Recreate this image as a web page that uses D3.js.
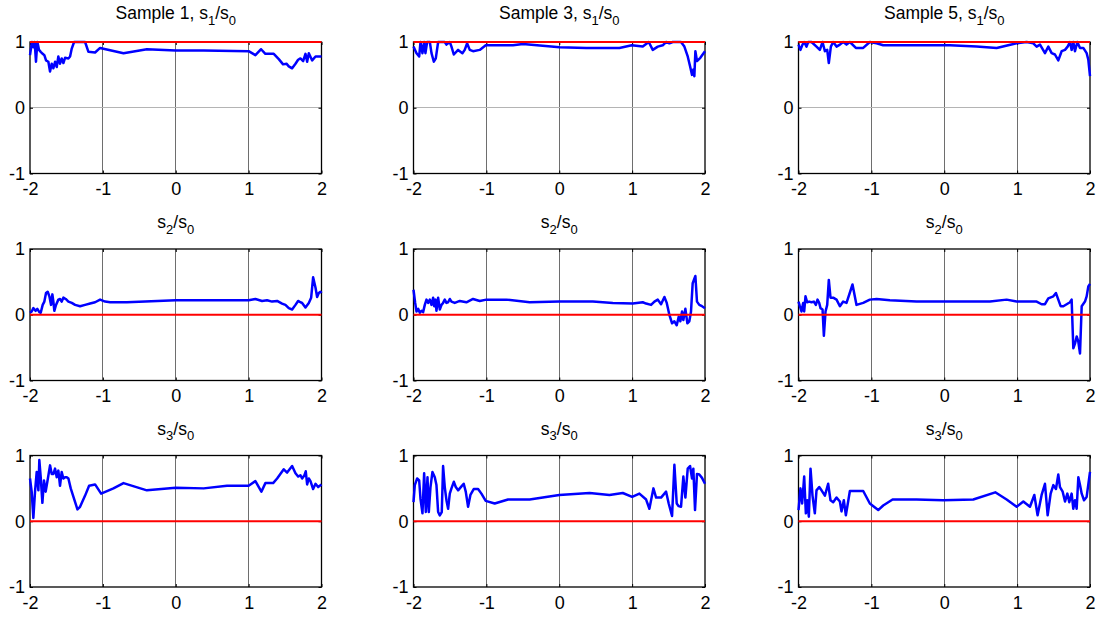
<!DOCTYPE html>
<html>
<head>
<meta charset="utf-8">
<script src="https://cdn.jsdelivr.net/npm/d3@7"></script>
<style>
  html, body { margin: 0; padding: 0; background: #fff; }
  svg { display: block; font-family: "Liberation Sans", Arial, sans-serif; }
</style>
</head>
<body>
<svg id="chart" width="1100" height="617"></svg>
<script>
// ---------- data ----------
const sampleNames = ["Sample 1", "Sample 3", "Sample 5"];
const components = ["1", "2", "3"];
const referenceLevels = [1, 0, 0];
const xTicks = [-2, -1, 0, 1, 2];
const yTicks = [-1, 0, 1];

// Sample 1
const s1_sample1_x = [-2.0,-1.973,-1.954,-1.936,-1.918,-1.899,-1.876,-1.853,-1.826,-1.803,-1.78,-1.748,-1.725,-1.702,-1.679,-1.656,-1.633,-1.611,-1.588,-1.565,-1.542,-1.519,-1.473,-1.45,-1.427,-1.395,-1.244,-1.198,-1.107,-1.038,-0.717,-0.396,0.0,0.383,1.0,1.093,1.171,1.23,1.345,1.414,1.473,1.519,1.551,1.597,1.643,1.679,1.711,1.748,1.78,1.803,1.826,1.872,1.918,2.0];
const s1_sample1_y = [0.80,1.0,0.92,1.0,0.70,1.0,0.88,0.85,0.82,0.80,0.72,0.70,0.55,0.67,0.60,0.70,0.62,0.78,0.67,0.75,0.68,0.76,0.75,0.78,0.90,1.0,1.0,0.85,0.84,0.91,0.83,0.89,0.87,0.87,0.86,0.80,0.89,0.82,0.82,0.74,0.66,0.67,0.63,0.60,0.67,0.73,0.75,0.71,0.82,0.70,0.83,0.72,0.78,0.78];
const s2_sample1_x = [-2.0,-1.977,-1.954,-1.922,-1.899,-1.872,-1.853,-1.826,-1.803,-1.78,-1.757,-1.734,-1.711,-1.693,-1.679,-1.666,-1.643,-1.611,-1.588,-1.565,-1.542,-1.51,-1.473,-1.427,-1.381,-1.313,-1.244,-1.175,-1.107,-1.038,-0.969,-0.9,-0.671,0.0,0.337,1.0,1.093,1.184,1.253,1.322,1.391,1.459,1.505,1.551,1.597,1.643,1.679,1.711,1.734,1.78,1.826,1.858,1.885,1.918,1.94,1.963,1.986,2.0];
const s2_sample1_y = [0.03,0.05,0.10,0.06,0.09,0.04,0.03,0.15,0.20,0.33,0.35,0.28,0.15,0.31,0.20,0.06,0.15,0.23,0.24,0.20,0.26,0.24,0.20,0.18,0.15,0.13,0.15,0.17,0.19,0.23,0.20,0.19,0.19,0.22,0.22,0.22,0.24,0.21,0.22,0.20,0.21,0.17,0.15,0.10,0.08,0.15,0.21,0.19,0.18,0.11,0.18,0.26,0.57,0.41,0.27,0.33,0.35,0.33];
const s3_sample1_x = [-2.0,-1.977,-1.954,-1.931,-1.908,-1.885,-1.872,-1.853,-1.83,-1.808,-1.785,-1.762,-1.725,-1.702,-1.679,-1.656,-1.633,-1.611,-1.588,-1.565,-1.542,-1.519,-1.496,-1.473,-1.441,-1.395,-1.349,-1.313,-1.244,-1.189,-1.107,-1.024,-0.855,-0.717,-0.396,0.0,0.383,0.703,1.0,1.093,1.175,1.23,1.336,1.391,1.482,1.528,1.597,1.643,1.679,1.711,1.734,1.766,1.784,1.803,1.826,1.849,1.885,1.918,1.954,2.0];
const s3_sample1_y = [0.65,0.45,0.05,0.45,0.75,0.47,0.93,0.67,0.28,0.62,0.45,0.60,0.85,0.72,0.72,0.80,0.67,0.77,0.54,0.75,0.65,0.67,0.67,0.65,0.50,0.34,0.18,0.22,0.39,0.54,0.56,0.42,0.50,0.58,0.47,0.51,0.50,0.54,0.54,0.61,0.45,0.58,0.58,0.65,0.79,0.74,0.84,0.73,0.68,0.70,0.65,0.70,0.76,0.56,0.65,0.61,0.49,0.57,0.52,0.56];

// Sample 3
const s1_sample3_x = [-2.0,-1.959,-1.922,-1.904,-1.877,-1.854,-1.836,-1.813,-1.776,-1.753,-1.721,-1.694,-1.662,-1.639,-1.571,-1.548,-1.502,-1.479,-1.447,-1.388,-1.329,-1.297,-1.265,-1.228,-1.183,-1.091,-1.009,-0.635,-0.498,0.005,0.37,0.826,0.995,1.146,1.228,1.283,1.352,1.42,1.466,1.511,1.557,1.671,1.717,1.763,1.795,1.822,1.84,1.854,1.868,1.89,1.936,2.0];
const s1_sample3_y = [0.93,0.83,0.78,1.0,0.83,1.0,0.83,1.0,1.0,0.83,0.70,0.75,1.0,1.0,1.0,0.96,1.0,0.93,0.81,0.88,0.83,0.88,0.98,0.88,0.86,0.88,0.95,0.95,0.97,0.92,0.91,0.91,0.95,0.93,1.0,0.88,0.93,0.95,1.0,0.98,1.0,1.0,0.93,0.78,0.63,0.50,0.58,0.48,0.86,0.71,0.76,0.86];
const s2_sample3_x = [-2.0,-1.977,-1.959,-1.936,-1.913,-1.89,-1.868,-1.845,-1.822,-1.799,-1.776,-1.753,-1.731,-1.717,-1.699,-1.685,-1.662,-1.639,-1.616,-1.594,-1.571,-1.548,-1.525,-1.502,-1.479,-1.434,-1.365,-1.274,-1.183,-1.091,-1.0,-0.726,-0.406,0.0,0.461,0.735,1.009,1.146,1.192,1.26,1.306,1.352,1.397,1.443,1.475,1.511,1.548,1.58,1.612,1.639,1.662,1.685,1.703,1.731,1.758,1.785,1.808,1.831,1.868,1.89,1.922,1.959,2.0];
const s2_sample3_y = [0.38,0.18,0.05,0.09,0.03,0.06,0.04,0.15,0.23,0.18,0.23,0.15,0.26,0.13,0.23,0.06,0.26,0.08,0.15,0.18,0.23,0.18,0.19,0.24,0.20,0.18,0.21,0.19,0.24,0.21,0.23,0.23,0.19,0.20,0.20,0.18,0.17,0.19,0.17,0.15,0.20,0.23,0.16,0.27,0.18,0.0,-0.13,-0.10,-0.16,-0.03,-0.10,0.05,-0.08,0.09,-0.13,-0.10,0.05,0.48,0.59,0.20,0.15,0.13,0.10];
const s3_sample3_x = [-2.0,-1.982,-1.95,-1.922,-1.904,-1.877,-1.854,-1.831,-1.808,-1.79,-1.767,-1.74,-1.708,-1.685,-1.662,-1.639,-1.612,-1.594,-1.571,-1.548,-1.525,-1.502,-1.479,-1.447,-1.42,-1.388,-1.342,-1.311,-1.283,-1.251,-1.219,-1.174,-1.114,-1.068,-1.009,-0.886,-0.703,-0.406,0.0,0.416,0.689,0.872,1.0,1.1,1.192,1.237,1.292,1.329,1.397,1.466,1.502,1.548,1.58,1.612,1.639,1.671,1.703,1.731,1.763,1.795,1.822,1.84,1.863,1.89,1.922,1.959,2.0];
const s3_sample3_y = [0.29,0.55,0.65,0.62,0.34,0.12,0.73,0.14,0.67,0.14,0.52,0.75,0.67,0.55,0.14,0.09,0.14,0.84,0.52,0.32,0.19,0.42,0.50,0.60,0.52,0.47,0.53,0.57,0.45,0.22,0.40,0.49,0.49,0.42,0.31,0.27,0.33,0.33,0.40,0.43,0.40,0.43,0.37,0.42,0.33,0.19,0.50,0.36,0.36,0.45,0.27,0.08,0.86,0.27,0.23,0.22,0.68,0.36,0.80,0.84,0.65,0.80,0.17,0.72,0.71,0.66,0.57];

// Sample 5
const s1_sample5_x = [-2.0,-1.973,-1.945,-1.922,-1.89,-1.867,-1.822,-1.753,-1.707,-1.67,-1.638,-1.606,-1.584,-1.556,-1.524,-1.478,-1.432,-1.387,-1.341,-1.295,-1.213,-1.112,-1.021,-0.929,-0.838,-0.471,0.078,0.444,0.719,0.993,1.13,1.222,1.268,1.314,1.382,1.428,1.474,1.519,1.565,1.611,1.657,1.693,1.725,1.748,1.771,1.794,1.826,1.863,1.908,1.954,1.977,2.0];
const s1_sample5_y = [0.96,0.88,0.96,1.0,0.93,1.0,1.0,0.93,0.88,1.0,0.86,0.88,0.68,0.93,1.0,0.93,0.96,1.0,0.96,1.0,0.91,0.91,1.0,0.98,0.95,0.95,0.95,0.93,0.91,0.98,1.0,0.98,0.93,0.96,0.83,0.93,0.83,0.81,0.72,0.86,0.88,0.93,1.0,0.88,1.0,0.86,1.0,0.91,0.91,0.83,0.73,0.48];
const s2_sample5_x = [-2.0,-1.982,-1.959,-1.936,-1.922,-1.904,-1.881,-1.854,-1.822,-1.789,-1.762,-1.739,-1.716,-1.698,-1.67,-1.652,-1.629,-1.606,-1.584,-1.561,-1.524,-1.478,-1.432,-1.387,-1.341,-1.259,-1.204,-1.112,-1.021,-0.929,-0.746,-0.38,-0.014,0.627,0.856,0.993,1.268,1.336,1.382,1.428,1.497,1.533,1.565,1.597,1.634,1.68,1.725,1.748,1.771,1.794,1.817,1.84,1.863,1.886,1.931,1.954,1.977,2.0];
const s2_sample5_y = [0.20,0.13,0.05,0.18,0.05,0.28,0.19,0.20,0.19,0.20,0.15,0.23,0.18,0.10,0.08,-0.32,0.05,0.15,0.53,0.26,0.26,0.23,0.13,0.20,0.18,0.46,0.15,0.18,0.23,0.24,0.22,0.20,0.20,0.20,0.23,0.20,0.20,0.16,0.16,0.25,0.28,0.33,0.23,0.13,0.13,0.16,0.19,0.23,-0.51,-0.44,-0.33,-0.41,-0.59,0.13,0.20,0.28,0.43,0.47];
const s3_sample5_x = [-2.0,-1.973,-1.95,-1.922,-1.899,-1.881,-1.858,-1.835,-1.808,-1.776,-1.753,-1.716,-1.684,-1.638,-1.593,-1.561,-1.524,-1.478,-1.432,-1.41,-1.378,-1.35,-1.295,-1.204,-1.112,-1.021,-0.906,-0.838,-0.709,-0.38,-0.014,0.398,0.70,0.856,0.993,1.085,1.176,1.236,1.281,1.336,1.382,1.419,1.46,1.497,1.533,1.565,1.588,1.625,1.657,1.689,1.716,1.748,1.771,1.794,1.817,1.84,1.863,1.886,1.918,1.954,2.0];
const s3_sample5_y = [0.17,0.50,0.27,0.68,0.12,0.32,0.07,0.80,0.39,0.12,0.47,0.52,0.47,0.39,0.57,0.32,0.29,0.36,0.30,0.15,0.32,0.09,0.46,0.46,0.46,0.27,0.17,0.24,0.33,0.33,0.32,0.33,0.44,0.33,0.22,0.30,0.22,0.40,0.09,0.40,0.57,0.09,0.42,0.55,0.49,0.71,0.52,0.45,0.30,0.42,0.29,0.42,0.19,0.32,0.19,0.67,0.55,0.42,0.32,0.37,0.75];

const panelSeries = [
  [[s1_sample1_x, s1_sample1_y], [s1_sample3_x, s1_sample3_y], [s1_sample5_x, s1_sample5_y]],
  [[s2_sample1_x, s2_sample1_y], [s2_sample3_x, s2_sample3_y], [s2_sample5_x, s2_sample5_y]],
  [[s3_sample1_x, s3_sample1_y], [s3_sample3_x, s3_sample3_y], [s3_sample5_x, s3_sample5_y]]
];

// ---------- layout ----------
const colLeft = [30, 413.5, 798.5];
const rowTop = [42, 249, 455.5];
const panelW = 291.5, panelH = 131.5;
const titleGap = [23, 21, 21];

const svg = d3.select("#chart");
svg.append("rect").attr("width", 1100).attr("height", 617).attr("fill", "#fff");

const fmt = d => String(d);

for (let r = 0; r < 3; r++) {
  for (let c = 0; c < 3; c++) {
    const x = d3.scaleLinear().domain([-2, 2]).range([0, panelW]);
    const y = d3.scaleLinear().domain([-1, 1]).range([panelH, 0]);
    const g = svg.append("g").attr("transform", `translate(${colLeft[c]},${rowTop[r]})`);

    // grid
    g.append("g").selectAll("line").data(xTicks.slice(1, -1)).join("line")
      .attr("x1", d => x(d)).attr("x2", d => x(d))
      .attr("y1", 0).attr("y2", panelH)
      .attr("stroke", "#6e6e6e").attr("stroke-width", 1).attr("shape-rendering", "crispEdges");
    g.append("g").selectAll("line").data(yTicks.slice(1, -1)).join("line")
      .attr("x1", 0).attr("x2", panelW)
      .attr("y1", d => y(d)).attr("y2", d => y(d))
      .attr("stroke", "#b4b4b4").attr("stroke-width", 1).attr("shape-rendering", "crispEdges");

    // axes
    const ax = g.append("g").attr("transform", `translate(0,${panelH})`)
      .call(d3.axisBottom(x).tickValues(xTicks).tickFormat(fmt).tickSize(-3).tickPadding(9));
    const ay = g.append("g")
      .call(d3.axisLeft(y).tickValues(yTicks).tickFormat(fmt).tickSize(-3).tickPadding(5));
    const at = g.append("g")
      .call(d3.axisTop(x).tickValues(xTicks).tickFormat("").tickSize(-3));
    const ar = g.append("g").attr("transform", `translate(${panelW},0)`)
      .call(d3.axisRight(y).tickValues(yTicks).tickFormat("").tickSize(-3));
    [ax, ay, at, ar].forEach(a => {
      a.select(".domain").remove();
      a.selectAll("line").attr("stroke", "#000");
      a.selectAll("text").attr("fill", "#000")
        .style("font-family", '"Liberation Sans", Arial, sans-serif').style("font-size", "18px");
    });

    // box
    g.append("rect").attr("x", 0).attr("y", 0).attr("width", panelW).attr("height", panelH)
      .attr("fill", "none").attr("stroke", "#000").attr("stroke-width", 1.3);

    // data line
    const [xs, ys] = panelSeries[r][c];
    const pts = xs.map((v, i) => [v, ys[i]]);
    g.append("path").datum(pts)
      .attr("d", d3.line().x(d => x(d[0])).y(d => y(d[1])))
      .attr("fill", "none").attr("stroke", "#0000ff").attr("stroke-width", 2.5)
      .attr("stroke-linejoin", "round");

    // reference line
    g.append("line")
      .attr("x1", x(-2)).attr("x2", x(2))
      .attr("y1", y(referenceLevels[r])).attr("y2", y(referenceLevels[r]))
      .attr("stroke", "#ff0000").attr("stroke-width", 2.2);

    // title
    const t = g.append("text")
      .attr("x", panelW / 2).attr("y", -titleGap[r])
      .attr("text-anchor", "middle")
      .style("font-size", "17.5px").attr("fill", "#000");
    const prefix = r === 0 ? sampleNames[c] + ", s" : "s";
    t.append("tspan").text(prefix);
    t.append("tspan").attr("dy", 5.5).style("font-size", "13px").text(components[r]);
    t.append("tspan").attr("dy", -5.5).text("/s");
    t.append("tspan").attr("dy", 5.5).style("font-size", "13px").text("0");
  }
}
</script>
</body>
</html>
